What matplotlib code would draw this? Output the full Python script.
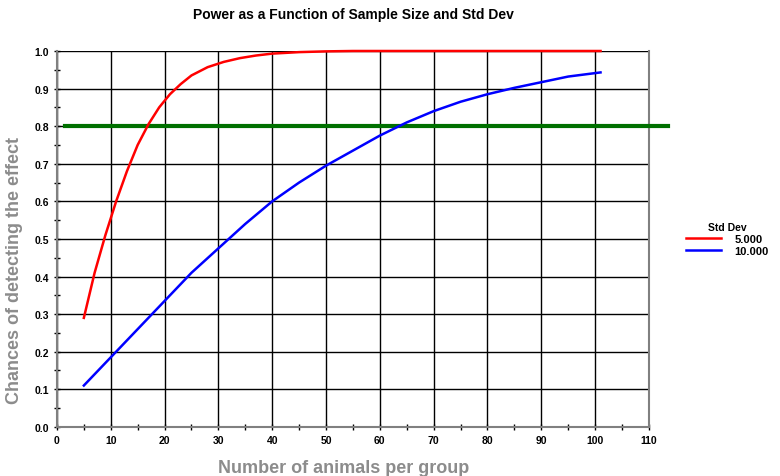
import matplotlib.pyplot as plt
import numpy as np

plt.rcParams['font.family'] = ['Liberation Sans', 'DejaVu Sans']

n_sd5 = [5, 7, 9, 11, 13, 15, 17, 19, 21, 23, 25, 28, 31, 34, 37, 40, 45, 50, 55, 101]
power_sd5 = [0.29, 0.41, 0.51, 0.60, 0.68, 0.75, 0.805, 0.85, 0.885, 0.912, 0.935,
             0.957, 0.971, 0.981, 0.988, 0.993, 0.997, 0.999, 1.0, 1.0]
n_sd10 = [5, 10, 15, 20, 25, 30, 35, 40, 45, 50, 55, 60, 65, 70, 75, 80, 85, 90, 95, 101]
power_sd10 = [0.11, 0.185, 0.26, 0.335, 0.41, 0.475, 0.54, 0.6, 0.65, 0.695,
              0.735, 0.775, 0.81, 0.84, 0.865, 0.885, 0.902, 0.917, 0.932, 0.943]
target_power = 0.8
series_labels = ['5.000', '10.000']

fig = plt.figure(figsize=(7.8, 4.77), dpi=100)
ax = fig.add_axes([0.073, 0.103, 0.759, 0.788])

ax.plot(n_sd5, power_sd5, color='#ff0000', lw=1.8, label=series_labels[0], clip_on=False, zorder=4)
ax.plot(n_sd10, power_sd10, color='#0000ff', lw=1.8, label=series_labels[1], clip_on=False, zorder=4)
ax.plot([1.5, 113.6], [target_power, target_power], color='#007000', lw=3, clip_on=False, zorder=3)

ax.set_xlim(0, 110)
ax.set_ylim(0, 1.0)
ax.set_xticks(np.arange(0, 111, 10))
ax.set_yticks(np.arange(0, 1.01, 0.1))
ax.set_xticks(np.arange(5, 110, 10), minor=True)
ax.set_yticks(np.arange(0.05, 1.0, 0.1), minor=True)
ax.set_yticklabels([f'{v:.1f}' for v in np.arange(0, 1.01, 0.1)])
ax.grid(True, which='major', color='black', lw=1)
ax.set_axisbelow(True)

for side in ['left', 'right', 'bottom']:
    ax.spines[side].set_color('#808080')
    ax.spines[side].set_linewidth(1.5)
ax.spines['top'].set_visible(False)
ax.tick_params(which='both', direction='inout', labelsize=7.5, pad=3, width=1, color='black')
ax.tick_params(which='major', length=5)
ax.tick_params(which='minor', length=4)
for lbl in ax.get_xticklabels() + ax.get_yticklabels():
    lbl.set_fontweight('bold')

ax.set_title('Power as a Function of Sample Size and Std Dev', fontsize=10, fontweight='bold', pad=24)
ax.set_xlabel('Number of animals per group', fontsize=13, fontweight='bold', color='#8c8c8c')
ax.set_ylabel('Chances of detecting the effect', fontsize=13, fontweight='bold', color='#8c8c8c')
ax.xaxis.set_label_coords(0.484, -0.085)
ax.yaxis.set_label_coords(-0.057, 0.42)

leg = ax.legend(loc='center left', bbox_to_anchor=(1.045, 0.5), frameon=False, title='Std Dev',
                prop={'size': 8, 'weight': 'bold'}, handlelength=3.2, handletextpad=1.2,
                labelspacing=0.2)
leg.get_title().set_fontweight('bold')
leg.get_title().set_fontsize(7.5)

fig.savefig('out.png', dpi=100)
